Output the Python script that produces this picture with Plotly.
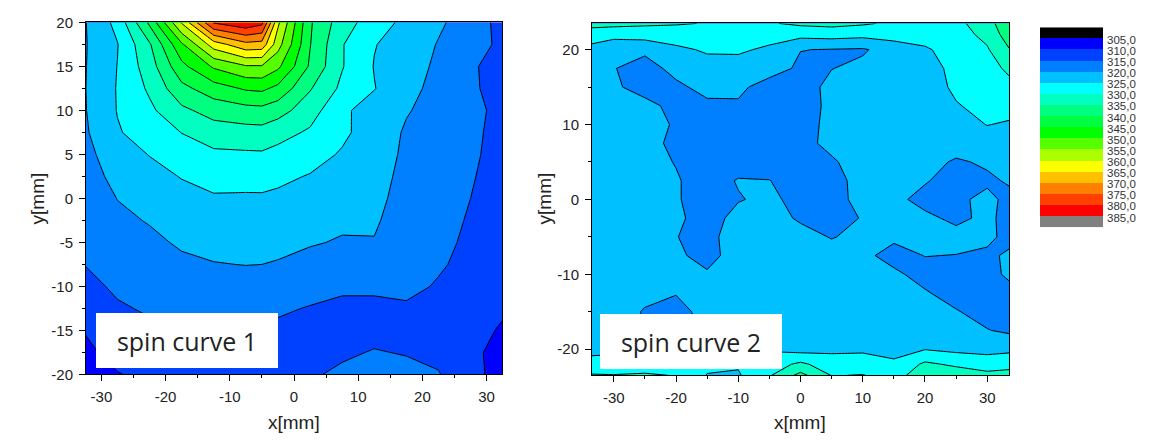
import plotly.graph_objects as go

# ---------------- data ----------------
level_start, level_end, level_step = 305, 385, 5
band_colors = ["#000000", "#0000FF", "#0040FF", "#0080FF", "#00C0FF", "#00FFFF",
               "#00FFC0", "#00FF80", "#00FF40", "#00FF00", "#55FF00", "#AAFF00",
               "#FFFF00", "#FFC000", "#FF8000", "#FF4000", "#FF0000", "#808080"]
colorbar_labels = ["305,0", "310,0", "315,0", "320,0", "325,0", "330,0", "335,0",
                   "340,0", "345,0", "350,0", "355,0", "360,0", "365,0", "370,0",
                   "375,0", "380,0", "385,0"]

x1_ticks = [-30, -20, -10, 0, 10, 20, 30]
y1_ticks = [-20, -15, -10, -5, 0, 5, 10, 15, 20]
x2_ticks = [-30, -20, -10, 0, 10, 20, 30]
y2_ticks = [-20, -10, 0, 10, 20]

# spin curve 1
x1 = [-32.5, -27.5, -22.5, -17.5, -12.5, -7.5, -5, -2.5, 2.5, 7.5, 12.5, 17.5, 22.5, 27.5, 32.5]
y1 = [-20, -17.5, -15, -12.5, -10, -7.5, -5, -2.5, 0, 2.5, 5, 7.5, 10, 12.5, 15, 17.5, 20]
z1 = [
    [307.5, 309.7, 311.5, 312.5, 312.8, 313.0, 313.0, 313.0, 314.6, 315.6, 316.0, 316.0, 315.3, 311.2, 308.5],
    [308.8, 311.8, 312.8, 313.5, 313.3, 313.7, 313.6, 313.5, 314.5, 314.5, 315.2, 314.8, 313.8, 311.0, 308.5],
    [310.3, 313.3, 314.2, 314.5, 314.0, 314.4, 314.4, 314.3, 314.3, 313.8, 314.0, 314.2, 313.4, 312.2, 309.3],
    [312.3, 314.5, 315.5, 315.9, 315.5, 315.5, 315.5, 315.5, 314.8, 314.2, 314.2, 314.4, 313.8, 312.8, 310.8],
    [313.8, 315.7, 316.7, 317.5, 317.6, 317.8, 317.7, 317.5, 316.3, 315.6, 315.6, 316.1, 314.6, 313.3, 311.3],
    [315.1, 316.9, 317.9, 319.1, 319.8, 320.1, 320.0, 319.7, 318.4, 317.5, 317.6, 317.2, 315.5, 313.8, 311.7],
    [315.6, 318.0, 319.0, 320.6, 321.4, 321.5, 321.4, 321.1, 320.4, 319.6, 319.8, 317.8, 316.1, 314.2, 312.0],
    [316.2, 319.0, 320.3, 322.1, 322.9, 322.9, 322.9, 322.6, 321.8, 320.8, 320.5, 318.0, 316.5, 314.6, 312.4],
    [316.8, 320.1, 321.9, 323.6, 324.5, 324.4, 324.4, 324.1, 323.3, 322.0, 321.2, 318.3, 316.9, 315.0, 312.7],
    [317.6, 321.6, 323.5, 325.2, 326.6, 326.6, 326.7, 326.0, 324.7, 323.3, 321.9, 318.6, 317.3, 315.4, 313.0],
    [318.5, 323.0, 325.15, 327.4, 329.1, 329.3, 329.4, 328.5, 326.9, 324.5, 322.7, 319.0, 317.7, 315.8, 313.3],
    [319.4, 324.6, 327.1, 330.1, 332.5, 333.1, 333.2, 331.8, 329.3, 326.0, 322.5, 319.5, 318.1, 316.0, 313.5],
    [319.8, 325.2, 329.0, 333.9, 337.0, 338.2, 338.5, 337.0, 332.2, 325.9, 322.8, 320.3, 318.5, 316.0, 314.0],
    [319.9, 325.3, 330.8, 338.6, 342.7, 345.6, 346.0, 343.7, 335.4, 328.9, 325.2, 321.2, 318.8, 315.7, 313.3],
    [319.8, 325.1, 332.6, 343.6, 350.7, 354.5, 354.5, 351.0, 339.3, 330.3, 324.8, 322.0, 319.2, 315.5, 313.5],
    [319.7, 324.8, 334.4, 349.2, 362.5, 368.5, 368.0, 357.0, 340.2, 330.3, 325.2, 323.0, 319.7, 316.0, 314.5],
    [319.8, 326.5, 341.0, 360.5, 380.5, 384.0, 381.5, 361.0, 340.6, 332.3, 327.4, 323.7, 320.8, 317.5, 313.5],
]

# spin curve 2
x2 = [-33.5, -30, -25, -20, -15, -10, -5, 0, 5, 10, 15, 20, 25, 30, 33.5]
y2 = [-23.5, -22, -20, -17.5, -15, -12.5, -10, -7.5, -5, -2.5, 0, 2.5, 5, 7.5, 10,
      12.5, 15, 17.5, 20, 22, 23.5]
z2 = [
    [330.4, 330.2, 330.6, 329.8, 324.8, 324.5, 329.5, 336.5, 329.8, 330.2, 328.0, 333.0, 333.0, 331.5, 331.8],
    [326.9, 327.3, 327.5, 327.0, 326.0, 325.5, 327.5, 331.0, 327.3, 327.6, 325.8, 330.9, 329.1, 327.4, 328.3],
    [323.5, 323.7, 323.5, 323.0, 323.5, 323.5, 324.5, 323.1, 324.0, 324.1, 323.5, 324.8, 323.8, 323.6, 323.9],
    [322.3, 321.5, 320.0, 318.8, 320.5, 322.0, 322.3, 322.5, 322.3, 322.2, 322.3, 322.3, 321.2, 320.2, 319.2],
    [322.3, 321.8, 319.7, 318.5, 321.5, 322.0, 322.0, 322.0, 322.0, 322.0, 322.0, 321.5, 320.3, 318.3, 318.5],
    [322.3, 322.0, 321.0, 320.2, 321.3, 322.0, 322.0, 322.0, 322.0, 322.0, 321.8, 320.4, 318.3, 318.0, 318.5],
    [322.3, 322.0, 321.8, 321.0, 320.5, 321.5, 322.0, 322.0, 322.0, 321.8, 320.8, 318.5, 318.0, 318.5, 320.8],
    [322.3, 322.0, 321.8, 320.8, 318.5, 322.0, 322.0, 322.0, 321.5, 321.0, 318.5, 320.1, 319.9, 319.0, 320.8],
    [322.3, 322.0, 321.5, 320.1, 318.8, 322.0, 322.0, 321.3, 319.8, 321.0, 320.8, 321.5, 321.5, 321.2, 318.5],
    [322.3, 322.0, 321.5, 320.9, 318.0, 321.5, 321.5, 319.5, 318.0, 320.3, 321.5, 321.0, 319.0, 321.0, 318.5],
    [322.3, 322.0, 321.5, 320.4, 318.0, 319.7, 321.0, 318.5, 318.5, 321.3, 321.2, 318.5, 318.8, 321.5, 318.5],
    [322.3, 322.0, 321.3, 320.4, 318.0, 320.3, 320.1, 318.0, 318.5, 321.5, 321.8, 320.4, 318.0, 319.0, 320.6],
    [322.3, 322.0, 321.5, 319.8, 318.0, 318.0, 318.0, 318.0, 319.5, 321.8, 322.0, 322.0, 319.3, 320.8, 321.0],
    [322.3, 322.0, 322.5, 318.3, 318.0, 318.0, 318.0, 318.8, 321.0, 322.0, 322.2, 322.3, 322.7, 323.2, 323.5],
    [322.3, 322.0, 321.5, 319.6, 318.0, 318.0, 318.0, 318.5, 321.0, 322.0, 322.3, 322.6, 323.5, 325.1, 324.6],
    [322.5, 322.0, 321.5, 318.5, 319.0, 319.4, 318.0, 318.0, 321.0, 322.3, 322.5, 323.0, 324.7, 326.3, 326.4],
    [322.5, 320.8, 318.0, 319.0, 321.5, 321.0, 318.0, 318.0, 321.2, 322.5, 323.0, 322.8, 325.8, 327.2, 328.5],
    [322.5, 320.2, 318.0, 321.5, 323.0, 323.0, 322.0, 319.2, 319.9, 321.0, 322.5, 323.5, 326.0, 328.0, 331.0],
    [323.4, 320.6, 321.0, 324.0, 325.6, 325.7, 324.2, 320.1, 319.8, 319.5, 322.0, 324.4, 327.0, 329.5, 334.7],
    [327.5, 327.0, 327.2, 327.5, 328.0, 327.8, 326.8, 326.5, 327.0, 326.4, 327.2, 327.0, 328.0, 331.3, 337.6],
    [331.6, 331.3, 330.8, 330.4, 329.8, 329.2, 329.6, 330.9, 331.4, 330.6, 329.2, 328.8, 328.8, 332.5, 339.5],
]

panel_labels = ["spin curve 1", "spin curve 2"]

# ---------------- figure ----------------
W, H = 1150, 443
nb = len(band_colors)
contour_cs = [[i / (nb - 1), c] for i, c in enumerate(band_colors)]
step_cs = []
for i, c in enumerate(band_colors):
    step_cs.append([i / nb, c])
    step_cs.append([(i + 1) / nb, c])

contours = dict(start=level_start, end=level_end, size=level_step,
                coloring="fill", showlines=True)

fig = go.Figure()
fig.add_trace(go.Contour(x=x1, y=y1, z=z1, autocontour=False, contours=contours,
                         colorscale=contour_cs, showscale=False,
                         line=dict(color="black", width=1, smoothing=0),
                         hoverinfo="skip", xaxis="x", yaxis="y"))
fig.add_trace(go.Contour(x=x2, y=y2, z=z2, autocontour=False, contours=contours,
                         colorscale=contour_cs, showscale=False,
                         line=dict(color="black", width=1, smoothing=0),
                         hoverinfo="skip", xaxis="x2", yaxis="y2"))

cb_idx = list(range(nb))
fig.add_trace(go.Heatmap(z=[[i] for i in cb_idx], x=[0], y=cb_idx,
                         colorscale=step_cs, zmin=-0.5, zmax=nb - 0.5,
                         showscale=False, hoverinfo="skip",
                         xaxis="x3", yaxis="y3"))

tickfont = dict(family="Liberation Sans, Arial, sans-serif", size=15, color="#222")


def ax(domain, rng, ticks, minor_dtick, anchor):
    return dict(domain=domain, range=rng, tickmode="array", tickvals=ticks,
                ticktext=[str(t) for t in ticks], anchor=anchor,
                showgrid=False, zeroline=False, showline=True, linecolor="black",
                linewidth=1, mirror=True, ticks="outside", ticklen=6, tickwidth=1,
                tickcolor="black", tickfont=tickfont, ticklabelstandoff=3,
                minor=dict(dtick=minor_dtick, tick0=0, ticks="outside", ticklen=3,
                           tickcolor="black", showgrid=False))


fig.update_layout(
    width=W, height=H, autosize=False,
    margin=dict(l=0, r=0, t=0, b=0),
    paper_bgcolor="white", plot_bgcolor="white",
    showlegend=False,
    xaxis=ax([86 / W, 502 / W], [-32.4, 32.4], x1_ticks, 5, "y"),
    yaxis=ax([63 / H, 429 / H], [-20, 20], y1_ticks, 2.5, "x"),
    xaxis2=ax([592 / W, 1009 / W], [-33.5, 33.5], x2_ticks, 5, "y2"),
    yaxis2=ax([62 / H, 428 / H], [-23.5, 23.5], y2_ticks, 5, "x2"),
    xaxis3=dict(domain=[1040 / W, 1103 / W], range=[-0.5, 0.5], visible=False,
                anchor="y3"),
    yaxis3=dict(domain=[216 / H, 424 / H], range=[nb - 0.5, -0.5], anchor="x3",
                side="right", tickmode="array",
                tickvals=[i + 0.62 for i in range(len(colorbar_labels))],
                ticktext=colorbar_labels, ticks="", showline=False,
                showgrid=False, zeroline=False, ticklabelstandoff=3,
                tickfont=dict(family="Liberation Sans, Arial, sans-serif",
                              size=11.5, color="#333")),
)

title_font = dict(family="Liberation Sans, Arial, sans-serif", size=19, color="#222")
ann = [
    dict(text="x[mm]", x=294 / W, y=1 - 430 / H, showarrow=False, font=title_font,
         xref="paper", yref="paper", xanchor="center", yanchor="middle"),
    dict(text="x[mm]", x=800 / W, y=1 - 430 / H, showarrow=False, font=title_font,
         xref="paper", yref="paper", xanchor="center", yanchor="middle"),
    dict(text="y[mm]", x=37 / W, y=1 - 197 / H, showarrow=False, font=title_font,
         textangle=-90, xref="paper", yref="paper", xanchor="center", yanchor="middle"),
    dict(text="y[mm]", x=544 / W, y=1 - 197 / H, showarrow=False, font=title_font,
         textangle=-90, xref="paper", yref="paper", xanchor="center", yanchor="middle"),
]
box_font = dict(family="Open Sans, Noto Sans, sans-serif", size=25, color="#222")
for label, (cx, cy) in zip(panel_labels, [(187, 344.5), (691, 346)]):
    ann.append(dict(text=label, x=cx / W, y=1 - cy / H, xref="paper", yref="paper",
                    showarrow=False, font=box_font, bgcolor="white", width=182,
                    height=55, borderpad=0, borderwidth=0, xanchor="center",
                    yanchor="middle", align="center", valign="middle"))
fig.update_layout(annotations=ann)

fig.write_html("out.html")
